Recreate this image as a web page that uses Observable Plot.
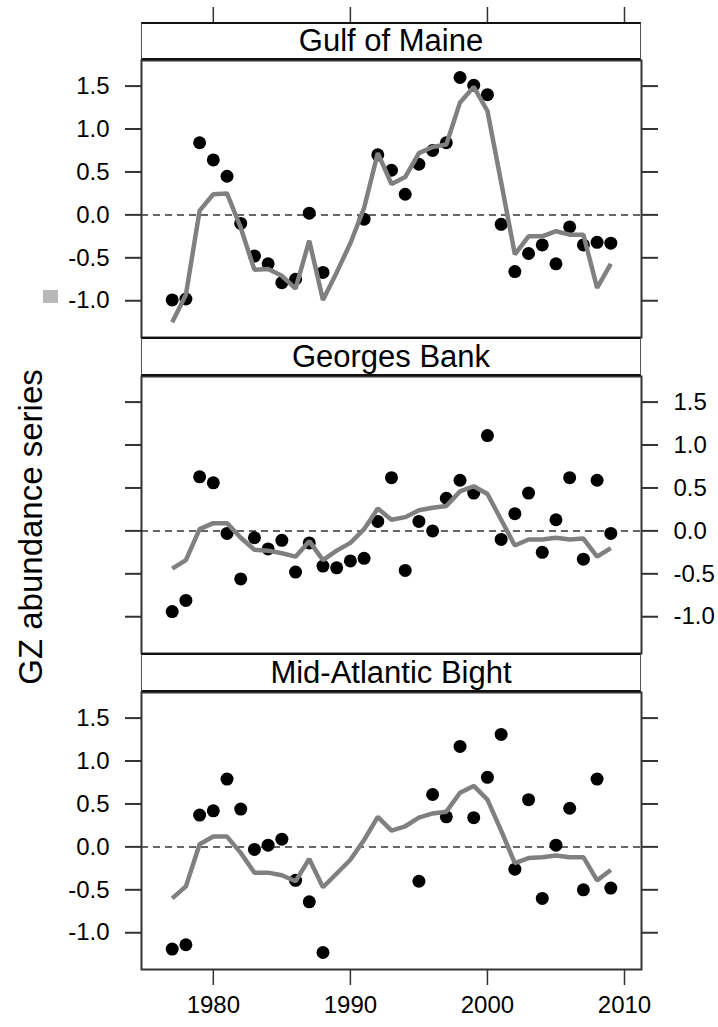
<!DOCTYPE html>
<html><head><meta charset="utf-8">
<script src="https://cdn.jsdelivr.net/npm/d3@7"></script>
<script src="https://cdn.jsdelivr.net/npm/@observablehq/plot@0.6"></script>
<style>
html,body{margin:0;padding:0;background:#fff;}
#chart{position:relative;width:718px;height:1027px;overflow:hidden;font-family:"Liberation Sans",Arial,sans-serif;background:#fff;}
.strip{position:absolute;left:141px;width:500px;box-sizing:border-box;border-left:1.5px solid #555;border-right:1.5px solid #555;border-top:2px solid #111;border-bottom:2px solid #111;background:#fff;display:flex;align-items:center;justify-content:center;font-size:31px;color:#000;z-index:2;}
.panel{position:absolute;left:0;z-index:1;}
#ylab{position:absolute;left:31px;top:527px;transform:translate(-50%,-50%) rotate(-90deg);white-space:nowrap;font-size:33px;color:#000;}
#blob{position:absolute;left:43px;top:290px;width:15px;height:13px;background:#b8b8b8;}
</style></head><body><div id="chart"></div><script>
const years = [1977,1978,1979,1980,1981,1982,1983,1984,1985,1986,1987,1988,1989,1990,1991,1992,1993,1994,1995,1996,1997,1998,1999,2000,2001,2002,2003,2004,2005,2006,2007,2008,2009];
const panelNames = ["Gulf of Maine","Georges Bank","Mid-Atlantic Bight"];
const gomObs = [-0.99,-0.98,0.84,0.64,0.45,-0.10,-0.48,-0.57,-0.79,-0.75,0.02,-0.67,null,null,-0.05,0.70,0.52,0.24,0.59,0.75,0.84,1.60,1.51,1.40,-0.11,-0.66,-0.45,-0.35,-0.57,-0.14,-0.35,-0.32,-0.33];
const gomSmooth = [-1.25,-0.93,0.05,0.24,0.25,-0.15,-0.64,-0.63,-0.71,-0.86,-0.30,-0.99,-0.67,-0.33,0.08,0.72,0.36,0.44,0.72,0.79,0.82,1.31,1.49,1.21,0.38,-0.46,-0.25,-0.25,-0.19,-0.23,-0.23,-0.85,-0.57];
const gbObs = [-0.94,-0.81,0.63,0.56,-0.03,-0.56,-0.08,-0.21,-0.11,-0.48,-0.14,-0.41,-0.43,-0.35,-0.32,0.11,0.62,-0.46,0.11,0.00,0.38,0.59,0.44,1.11,-0.10,0.20,0.44,-0.25,0.13,0.62,-0.33,0.59,-0.03];
const gbSmooth = [-0.44,-0.34,0.02,0.09,0.09,-0.08,-0.22,-0.23,-0.26,-0.30,-0.12,-0.34,-0.23,-0.14,0.02,0.26,0.13,0.16,0.24,0.27,0.29,0.46,0.52,0.43,0.13,-0.17,-0.10,-0.10,-0.08,-0.10,-0.09,-0.30,-0.20];
const mabObs = [-1.19,-1.14,0.37,0.42,0.79,0.44,-0.03,0.02,0.09,-0.39,-0.64,-1.23,null,null,null,null,null,null,-0.40,0.61,0.35,1.17,0.34,0.81,1.31,-0.26,0.55,-0.60,0.02,0.45,-0.50,0.79,-0.48];
const mabSmooth = [-0.60,-0.46,0.03,0.12,0.12,-0.07,-0.30,-0.30,-0.33,-0.40,-0.14,-0.47,-0.31,-0.15,0.08,0.35,0.19,0.24,0.34,0.39,0.41,0.63,0.71,0.55,0.19,-0.19,-0.13,-0.12,-0.10,-0.12,-0.12,-0.39,-0.27];
const yTicks = [-1.0,-0.5,0.0,0.5,1.0,1.5];
const xTicks = [1980,1990,2000,2010];
const yTitle = "GZ abundance series";

const chart = document.getElementById("chart");
const FONT = '"Liberation Sans", Arial, sans-serif';
const pad = (ext, p) => [ext[0] - p * (ext[1] - ext[0]), ext[1] + p * (ext[1] - ext[0])];
const xDomain = pad(d3.extent(years), 0.07);
const allObs = [...gomObs, ...gbObs, ...mabObs].filter(v => v != null);
const yDomain = pad(d3.extent(allObs), 0.07);
const fmt = d => d.toFixed(1);
const AX = "#333";
const TF = 24;
const common = {width: 718, marginLeft: 141, marginRight: 77,
  style: {background: "transparent", overflow: "visible", fontFamily: FONT, color: "#000"}};

const topAxis = Plot.plot({...common, height: 23, marginTop: 22, marginBottom: 1,
  x: {domain: xDomain, label: null},
  marks: [Plot.axisX(xTicks, {anchor: "top", tickSize: 16, stroke: AX, strokeWidth: 1.5, tickFormat: () => "", label: null})]});
topAxis.classList.add("panel"); topAxis.style.top = "0px";
chart.appendChild(topAxis);

const specs = [
  {name: panelNames[0], obs: gomObs, smooth: gomSmooth, top: 0, height: 337, mt: 60, mb: 0, labels: "left", bottom: false, strip: [22, 38]},
  {name: panelNames[1], obs: gbObs, smooth: gbSmooth, top: 337, height: 316, mt: 39, mb: 0, labels: "right", bottom: false, strip: [337, 39]},
  {name: panelNames[2], obs: mabObs, smooth: mabSmooth, top: 653, height: 374, mt: 39, mb: 58, labels: "left", bottom: true, strip: [653, 39]}
];

for (const s of specs) {
  const rows = years.map((year, i) => ({year, obs: s.obs[i], smooth: s.smooth[i]}));
  const lab = s.labels;
  const other = lab === "left" ? "right" : "left";
  const marks = [
    Plot.ruleY([0], {stroke: "#333", strokeWidth: 1.5, strokeDasharray: "7,5"}),
    Plot.dot(rows.filter(d => d.obs != null), {x: "year", y: "obs", r: 6.5, fill: "#000", stroke: "none"}),
    Plot.line(rows, {x: "year", y: "smooth", stroke: "#808080", strokeWidth: 4.5, strokeLinejoin: "miter", strokeLinecap: "butt"}),
    Plot.frame({stroke: "#333", strokeWidth: 2}),
    Plot.axisY(yTicks, {anchor: lab, tickSize: 16, tickPadding: 16, fontSize: TF, stroke: AX, strokeWidth: 2, tickFormat: fmt, label: null}),
    Plot.axisY(yTicks, {anchor: other, tickSize: 16, stroke: AX, strokeWidth: 2, tickFormat: () => "", label: null})
  ];
  if (s.bottom) marks.push(Plot.axisX(xTicks, {anchor: "bottom", tickSize: 16, tickPadding: 10, fontSize: TF, stroke: AX, strokeWidth: 1.5, tickFormat: d => String(d), label: null}));
  const svg = Plot.plot({...common, height: s.height, marginTop: s.mt, marginBottom: s.mb,
    x: {domain: xDomain, label: null, axis: null},
    y: {domain: yDomain, label: null, axis: null},
    marks});
  svg.classList.add("panel"); svg.style.top = s.top + "px";
  chart.appendChild(svg);
  const strip = document.createElement("div");
  strip.className = "strip";
  strip.style.top = s.strip[0] + "px";
  strip.style.height = s.strip[1] + "px";
  strip.textContent = s.name;
  chart.appendChild(strip);
}

const yl = document.createElement("div");
yl.id = "ylab"; yl.textContent = yTitle;
chart.appendChild(yl);
const blob = document.createElement("div");
blob.id = "blob";
chart.appendChild(blob);
</script></body></html>
